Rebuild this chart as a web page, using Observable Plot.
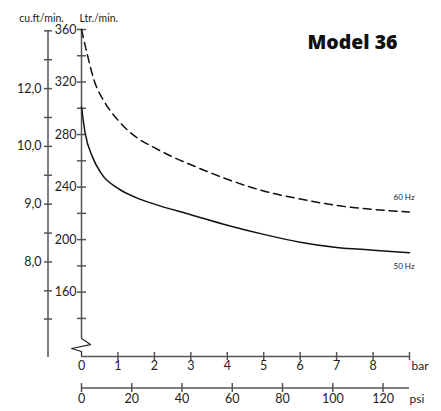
<!DOCTYPE html>
<html><head><meta charset="utf-8">
<script src="https://cdn.jsdelivr.net/npm/d3@7"></script>
<script src="https://cdn.jsdelivr.net/npm/@observablehq/plot@0.6"></script>
<style>body{margin:0;background:#fff;} svg{display:block;}</style>
</head><body><div id="chart"></div>
<script>
// ---- data ----
const bar60 = [0, 0.15, 0.35, 0.65, 1, 1.5, 2, 2.5, 3, 4, 5, 6, 7, 8, 9];
const ltr60 = [360, 342, 321, 304, 291, 278, 270, 263, 257, 246, 237, 231, 226, 223, 221];
const bar50 = [0, 0.1, 0.3, 0.55, 1, 1.5, 2, 3, 4, 5, 6, 7, 8, 9];
const ltr50 = [301, 281, 263, 250, 239, 232, 227, 219, 211, 204, 198, 194, 192, 190];
const ltrTicks = [140, 160, 180, 200, 220, 240, 260, 280, 300, 320, 340, 360];
const ltrLabels = [160, 200, 240, 280, 320, 360];
const cuftTickLtr = [359, 337, 315, 293, 271, 249, 227, 205, 183, 161, 139.5];
const cuftLabelLtr = [315, 271, 227, 183];
const cuftLabels = ["12,0", "10,0", "9,0", "8,0"];
const barTicks = [0, 1, 2, 3, 4, 5, 6, 7, 8, 9];
const barLabels = [0, 1, 2, 3, 4, 5, 6, 7, 8];
const psiTicks = [0, 20, 40, 60, 80, 100, 120];
const PSI_PER_BAR = 14.5038;
// axis break decoration (bar, L)
const breakX = [0, 0.247, -0.274, 0, 0];
const breakY = [124.7, 120.1, 117.1, 114.8, 111];

// ---- layout ----
const W = 441, H = 411, mL = 81, mR = 32, mT = 29, mB = 55;
const xDom = [0, 9], yDom = [111, 360];
const ppx = (W - mL - mR) / (xDom[1] - xDom[0]);   // px per bar
const ppy = (H - mT - mB) / (yDom[1] - yDom[0]);   // px per L
const axisColor = "#555";
const font = "Lato, 'Open Sans', sans-serif";

const d60 = bar60.map((b, i) => ({b, l: ltr60[i]}));
const d50 = bar50.map((b, i) => ({b, l: ltr50[i]}));
const brk = breakX.map((b, i) => ({b, l: breakY[i]}));

const chart = Plot.plot({
  width: W, height: H,
  marginLeft: mL, marginRight: mR, marginTop: mT, marginBottom: mB,
  x: {domain: xDom, axis: null},
  y: {domain: yDom, axis: null},
  style: {fontFamily: font, color: "#222", background: "#fff"},
  marks: [
    // Ltr axis
    Plot.ruleX([0], {y1: 124.7, y2: 360, stroke: axisColor, strokeWidth: 1.5}),
    Plot.line(brk, {x: "b", y: "l", stroke: "#222", strokeWidth: 1.2}),
    Plot.ruleY(ltrTicks, {x1: -4 / ppx, x2: 5 / ppx, stroke: axisColor, strokeWidth: 1.5}),
    Plot.text(ltrLabels, {x: 0, y: d => d, dx: -5, textAnchor: "end", fontSize: 12.5}),
    // cu.ft axis
    Plot.ruleX([0], {y1: 110.3, y2: 359, dx: -33.5, stroke: axisColor, strokeWidth: 1.5}),
    Plot.ruleY(cuftTickLtr, {x1: -3.5 / ppx, x2: 4.5 / ppx, dx: -33.5, stroke: axisColor, strokeWidth: 1.5}),
    Plot.text(cuftLabels, {x: 0, y: (d, i) => cuftLabelLtr[i], dx: -40, textAnchor: "end", fontSize: 12.5}),
    // bar axis
    Plot.ruleY([yDom[0]], {x1: 0, x2: 9, stroke: axisColor, strokeWidth: 1.5}),
    Plot.ruleX(barTicks.filter(d => d > 0), {y1: yDom[0] - 4 / ppy, y2: yDom[0] + 4 / ppy, stroke: axisColor, strokeWidth: 1.5}),
    Plot.text(barLabels, {x: d => d, frameAnchor: "bottom", dy: 13, fontSize: 12.5}),
    Plot.text(["bar"], {x: 9, frameAnchor: "bottom", dy: 13, dx: 2, textAnchor: "start", fontSize: 12}),
    // psi axis
    Plot.ruleY([yDom[0]], {x1: 0, x2: 9, dy: 31.5, stroke: axisColor, strokeWidth: 1.5}),
    Plot.ruleX(psiTicks, {x: d => d / PSI_PER_BAR, y1: yDom[0] - 4.5 / ppy, y2: yDom[0] + 4.5 / ppy, dy: 31.5, stroke: axisColor, strokeWidth: 1.5}),
    Plot.text(psiTicks, {x: d => d / PSI_PER_BAR, frameAnchor: "bottom", dy: 46.5, fontSize: 12.5}),
    Plot.text(["psi"], {x: 9, frameAnchor: "bottom", dy: 46.5, dx: 0, textAnchor: "start", fontSize: 12}),
    // curves
    Plot.line(d60, {x: "b", y: "l", curve: "monotone-x", stroke: "#111", strokeWidth: 1.5, strokeDasharray: "8,5"}),
    Plot.line(d50, {x: "b", y: "l", curve: "monotone-x", stroke: "#111", strokeWidth: 1.5}),
    Plot.text(["60 Hz"], {x: 9, y: ltr60[ltr60.length - 1], dx: 5, dy: -14.5, textAnchor: "end", fontSize: 8}),
    Plot.text(["50 Hz"], {x: 9, y: ltr50[ltr50.length - 1], dx: 5, dy: 14, textAnchor: "end", fontSize: 8}),
    // titles
    Plot.text(["Model 36"], {frameAnchor: "top-right", dx: -12, dy: 5.5, textAnchor: "end", fontSize: 19.5, fontWeight: 800, fontFamily: "'Open Sans', sans-serif", fill: "#111"}),
    Plot.text(["cu.ft/min."], {frameAnchor: "top-left", dx: -40, dy: -15, textAnchor: "middle", fontSize: 10.5}),
    Plot.text(["Ltr./min."], {frameAnchor: "top-left", dx: -2, dy: -15, textAnchor: "start", fontSize: 10.5})
  ]
});
document.getElementById("chart").appendChild(chart);
</script>
</body></html>
